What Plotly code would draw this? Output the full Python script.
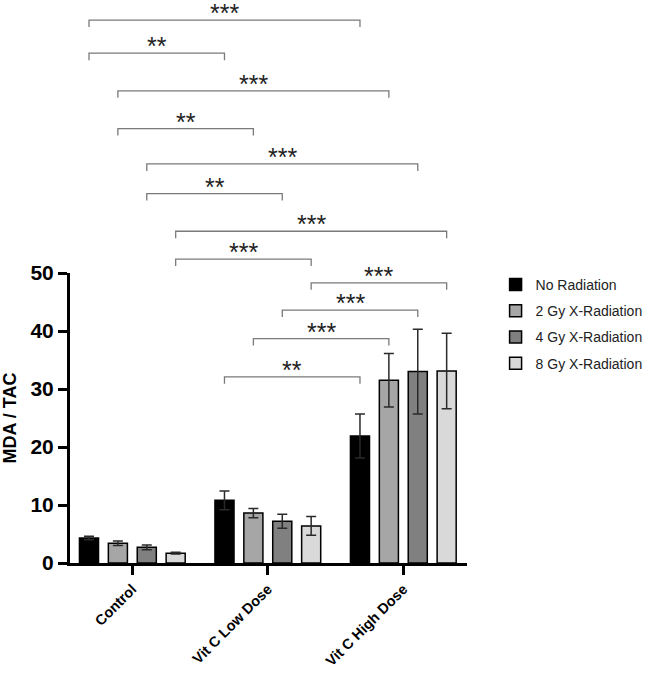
import plotly.graph_objects as go

categories = ["Control", "Vit C Low Dose", "Vit C High Dose"]
series_names = ["No Radiation", "2 Gy X-Radiation", "4 Gy X-Radiation", "8 Gy X-Radiation"]
no_rad = [4.3, 10.8, 21.9]
no_rad_err = [0.3, 1.6, 3.8]
gy2 = [3.4, 8.6, 31.5]
gy2_err = [0.4, 0.8, 4.6]
gy4 = [2.7, 7.2, 33.0]
gy4_err = [0.4, 1.2, 7.3]
gy8 = [1.7, 6.4, 33.1]
gy8_err = [0.15, 1.6, 6.5]
y_ticks = [0, 10, 20, 30, 40, 50]

# significance brackets: (group A, group B, series index, level, label)
brackets = [
    (0, 2, 0, 93.6, "***"),
    (0, 1, 0, 87.9, "**"),
    (0, 2, 1, 81.4, "***"),
    (0, 1, 1, 74.9, "**"),
    (0, 2, 2, 68.8, "***"),
    (0, 1, 2, 63.7, "**"),
    (0, 2, 3, 57.2, "***"),
    (0, 1, 3, 52.4, "***"),
    (1, 2, 3, 48.3, "***"),
    (1, 2, 2, 43.6, "***"),
    (1, 2, 1, 38.7, "***"),
    (1, 2, 0, 32.1, "**"),
]

values = [no_rad, gy2, gy4, gy8]
errors = [no_rad_err, gy2_err, gy4_err, gy8_err]
colors = ["#000000", "#a6a6a6", "#808080", "#d9d9d9"]

FONT = "Liberation Sans, Arial, sans-serif"
W, H = 645, 674
M_L, M_R, M_T, M_B = 70, 178, 10, 111
plot_h = H - M_T - M_B
px_per_unit = 5.8
d = 50 * px_per_unit / plot_h
y2_top = 50 / d

bargap = 0.147
bargroupgap = 0.34
n = len(series_names)
slot = (1 - bargap) / n
gx = list(range(len(categories)))

fig = go.Figure()
for i in range(n):
    fig.add_trace(go.Bar(
        x=gx, y=values[i], name=series_names[i],
        legendgroup=series_names[i],
        marker=dict(color=colors[i], line=dict(color="#000000", width=1.5)),
        error_y=dict(type="data", array=errors[i], color="#2a2a2a", thickness=1.5, width=5),
    ))

drop = 1.2
for (a, b, s, lvl, lab) in brackets:
    xa = a + (s - (n - 1) / 2) * slot
    xb = b + (s - (n - 1) / 2) * slot
    fig.add_trace(go.Scatter(
        x=[xa, xa, xb, xb], y=[lvl - drop, lvl, lvl, lvl - drop],
        mode="lines", line=dict(color="#7a7a7a", width=1.3),
        yaxis="y2", showlegend=False, hoverinfo="skip",
    ))
    fig.add_annotation(
        x=(xa + xb) / 2, y=lvl, xref="x", yref="y2", text=lab,
        showarrow=False, yanchor="bottom", yshift=-9,
        font=dict(family=FONT, size=25, color="#222222"),
    )

fig.update_layout(
    width=W, height=H,
    margin=dict(l=M_L, r=M_R, t=M_T, b=M_B, autoexpand=False),
    paper_bgcolor="white", plot_bgcolor="rgba(0,0,0,0)",
    barmode="group", bargap=bargap, bargroupgap=bargroupgap,
    font=dict(family=FONT, color="#000000"),
    xaxis=dict(
        range=[-0.46, 2.47], tickvals=gx, ticktext=categories,
        tickangle=-45, showline=True, linecolor="#000000", linewidth=3,
        ticks="outside", ticklen=9, tickwidth=3, tickcolor="#000000",
        showgrid=False, zeroline=False, automargin=False,
        tickfont=dict(family=FONT, size=14.5, weight="bold", color="#000000"),
        anchor="y",
    ),
    yaxis=dict(
        domain=[0, d], range=[0, 50], tickvals=y_ticks,
        showline=True, linecolor="#000000", linewidth=3,
        ticks="outside", ticklen=9, tickwidth=3, tickcolor="#000000",
        showgrid=False, zeroline=False, automargin=False,
        tickfont=dict(family=FONT, size=21, weight="bold", color="#000000"),
        title=dict(text="MDA / TAC", standoff=12,
                   font=dict(family=FONT, size=18, weight="bold", color="#000000")),
    ),
    yaxis2=dict(
        domain=[0, 1], range=[0, y2_top], visible=False, anchor="x",
    ),
    legend=dict(
        x=1.072, y=1 - (285 - 16 - M_T) / plot_h, xanchor="left", yanchor="top",
        traceorder="grouped", tracegroupgap=5,
        font=dict(family=FONT, size=14, color="#222222"),
        bgcolor="rgba(0,0,0,0)",
    ),
)

fig.write_html("out.html")
